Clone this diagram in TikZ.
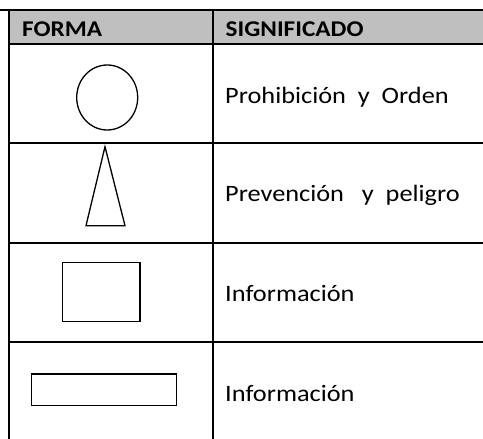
\documentclass[tikz,border=0pt]{standalone}
\usepackage{fontspec}
\setmainfont{Carlito}[FakeStretch=1.12]
\definecolor{headgray}{RGB}{191,191,191}
\begin{document}
\begin{tikzpicture}[x=1pt,y=-1pt,
  rule/.style={line width=2pt,black},
  shapeline/.style={line width=1.3pt,black},
  headtxt/.style={anchor=base west,inner sep=0pt,font=\fontsize{22.5}{26}\selectfont\bfseries},
  bodytxt/.style={anchor=base west,inner sep=0pt,font=\fontsize{23.5}{27}\selectfont}]
\useasboundingbox (0,0) rectangle (483,439);
% header fill
\fill[headgray] (9,10) rectangle (483,43.7);
% horizontal rules
\draw[rule] (0,10) -- (483,10);
\draw[rule] (9,43.7) -- (483,43.7);
\draw[rule] (9,143) -- (483,143);
\draw[rule] (9,242.7) -- (483,242.7);
\draw[rule] (9,341.7) -- (483,341.7);
% vertical rules
\draw[rule] (9,10) -- (9,439);
\draw[rule] (213,10) -- (213,439);
% header texts
\node[headtxt] (forma) at (22,36.7) {FORMA};
\node[headtxt] (signif) at (225.5,36.7) {SIGNIFICADO};
% shapes
\draw[shapeline] (107.2,97.5) ellipse [x radius=30.5, y radius=32.5];
\draw[shapeline] (105,146.7) -- (125,225.7) -- (86,225.7) -- cycle;
\draw[shapeline] (62.7,262.3) rectangle (140,321.7);
\draw[shapeline] (31.7,374) rectangle (176.7,405.7);
% meanings
\node[bodytxt] (t1) at (225,103.3) {Prohibición\ \ y\ \ Orden};
\node[bodytxt] (t2) at (225,201.7) {Prevención\ \ \ y\ \ peligro};
\node[bodytxt] (t3) at (225,301.7) {Información};
\node[bodytxt] (t4) at (225,401.7) {Información};
\end{tikzpicture}
\end{document}
